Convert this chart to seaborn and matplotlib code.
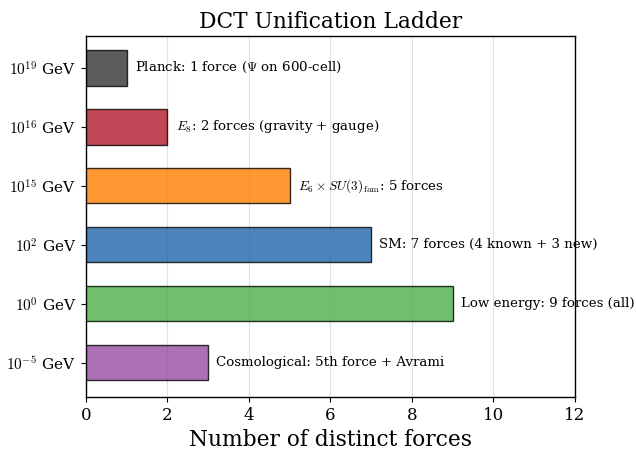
import matplotlib
matplotlib.use("Agg")
import matplotlib.pyplot as plt
import seaborn as sns
import pandas as pd

scales = [r"$10^{19}$ GeV", r"$10^{16}$ GeV", r"$10^{15}$ GeV",
          r"$10^{2}$ GeV", r"$10^{0}$ GeV", r"$10^{-5}$ GeV"]
forces = [1, 2, 5, 7, 9, 3]
notes = [r"Planck: 1 force ($\Psi$ on 600-cell)",
         r"$E_8$: 2 forces (gravity + gauge)",
         r"$E_6\times SU(3)_{\rm fam}$: 5 forces",
         "SM: 7 forces (4 known + 3 new)",
         "Low energy: 9 forces (all)",
         "Cosmological: 5th force + Avrami"]
colors = ["#333333", "#b2182b", "#ff7f00", "#2166ac", "#4daf4a", "#984ea3"]

sns.set_style("ticks")
plt.rcParams["font.family"] = ["DejaVu Serif"]
plt.rcParams["mathtext.fontset"] = "cm"
plt.rcParams["text.color"] = "black"
plt.rcParams["axes.labelcolor"] = "black"
plt.rcParams["xtick.color"] = "black"
plt.rcParams["ytick.color"] = "black"

df = pd.DataFrame({"scale": scales, "forces": forces})

fig, ax = plt.subplots(figsize=(6.36, 4.5), dpi=100)
fig.subplots_adjust(left=0.135, right=0.904, top=0.92, bottom=0.118)

sns.barplot(data=df, x="forces", y="scale", hue="scale", palette=colors,
            saturation=1, orient="h", width=0.6, alpha=0.8, edgecolor="black",
            linewidth=1.0, legend=False, ax=ax, zorder=3)
for p in ax.patches:
    p.set_edgecolor((0, 0, 0, 0.8))

for i, (v, t) in enumerate(zip(forces, notes)):
    ax.text(v + 0.2, i, t, va="center", ha="left", fontsize=9.6,
            color="black", clip_on=False, zorder=5)

ax.set_xlim(0, 12)
ax.set_ylim(5.58, -0.54)
ax.set_xticks(range(0, 13, 2))
ax.tick_params(axis="x", labelsize=12)
ax.tick_params(axis="y", labelsize=11)
ax.xaxis.grid(True, color="#cccccc", alpha=0.6, linewidth=0.8, zorder=0)
ax.set_axisbelow(True)
ax.set_xlabel("Number of distinct forces", fontsize=15.7)
ax.set_ylabel("")
ax.set_title("DCT Unification Ladder", fontsize=15.7, color="black")
for s in ax.spines.values():
    s.set_color("black")
    s.set_linewidth(1.0)

fig.savefig("out.png", dpi=100)
